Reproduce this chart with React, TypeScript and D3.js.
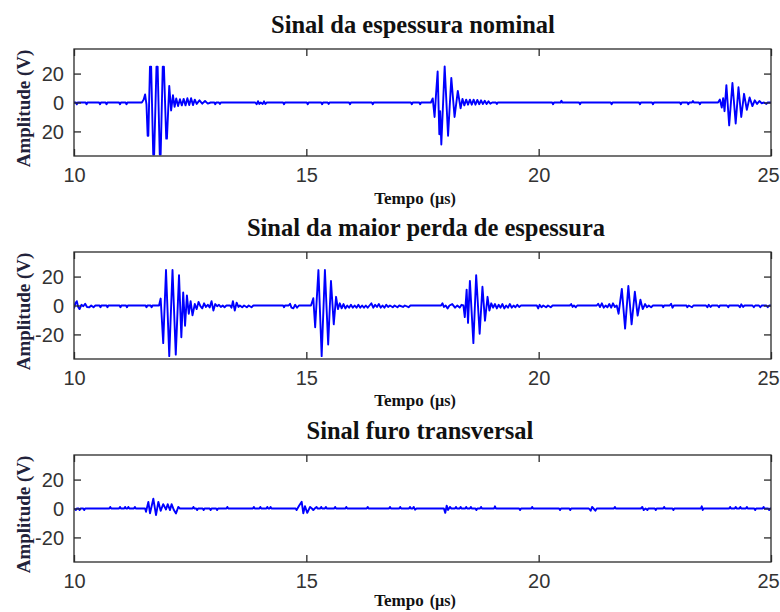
import * as d3 from "d3";
import { useEffect, useRef } from "react";

type Pt = [number, number];

const timeDomain: [number, number] = [10, 25];
const ampDomain: [number, number] = [-37, 37];
const xTicks = [10, 15, 20, 25];
const xTickLabels = ["10", "15", "20", "25"];
const yTicks = [-20, 0, 20];
const yTickLabelsNominal = ["20", "0", "20"];
const yTickLabels = ["-20", "0", "20"];

const titles = [
    "Sinal da espessura nominal",
    "Sinal da maior perda de espessura",
    "Sinal furo transversal",
];

// espessura nominal (t em µs, amplitude em V)
const signalNominal: Pt[] = [
    [10.0, 0], [10.04, 0], [10.06, -1.3], [10.08, 0], [10.25, 0], [10.27, -1.2], [10.29, 0],
    [10.54, 0], [10.56, -1.2], [10.58, 0], [10.68, 0], [10.7, -1.2], [10.72, 0], [10.97, 0],
    [10.99, -1.2], [11.01, 0], [11.11, 0], [11.13, -1.2], [11.15, 0], [11.46, 0],
    [11.5, 2], [11.53, 5.6], [11.56, -1.5], [11.585, -23], [11.6, -23], [11.635, 24.8], [11.66, 24.8],
    [11.705, -36], [11.725, -36], [11.775, 24.8], [11.8, 24.8], [11.845, -36], [11.865, -36],
    [11.91, 24.8], [11.935, 24.8], [11.985, -25], [12.0, -25], [12.05, 11.5], [12.09, -5.5],
    [12.13, 5], [12.165, -3], [12.2, 2.8], [12.24, -2.4], [12.28, 2.3], [12.32, -2], [12.36, 2.5],
    [12.4, -2], [12.44, 3], [12.48, -1.8], [12.52, 3], [12.56, -1.8], [12.6, 2], [12.64, -1],
    [12.7, 1.5], [12.76, -0.8], [12.82, 1], [12.88, -0.8], [12.94, 0], [13.02, 0], [13.04, -1.2],
    [13.06, 0], [13.12, 0], [13.14, -1], [13.16, 0],
    [13.9, 0], [13.93, -1.2], [13.96, 0.9], [13.99, -1], [14.02, 0], [14.06, -1], [14.09, 0.8],
    [14.12, -1], [14.15, 0], [14.5, 0], [14.52, -1.2], [14.54, 0], [15.01, 0], [15.03, -1.2],
    [15.05, 0], [15.32, 0], [15.34, -1.2], [15.36, 0], [15.46, 0], [15.48, -1], [15.5, 0],
    [15.92, 0], [15.94, -1.2], [15.96, 0], [16.41, 0], [16.43, -1.2], [16.45, 0], [17.25, 0],
    [17.27, -1.2], [17.29, 0], [17.43, 0], [17.45, -1.2], [17.47, 0], [17.68, 0],
    [17.72, 2.8], [17.76, -10], [17.79, 5], [17.826, 21.5], [17.862, -22], [17.88, -6], [17.905, -29],
    [17.977, 25], [18.05, -23], [18.12, 17], [18.19, -10], [18.26, 8], [18.32, -4], [18.36, 2.5],
    [18.4, -2], [18.44, 2], [18.48, -1.5], [18.52, 2], [18.56, -1.5], [18.6, 2], [18.64, -1.5],
    [18.68, 1.8], [18.72, -1.2], [18.76, 1.5], [18.8, -1], [18.84, 1.2], [18.88, -1], [18.92, 0.8],
    [18.96, -0.8], [19.0, 0], [19.08, 0], [19.1, -1], [19.12, 0],
    [20.29, 0], [20.31, -1.2], [20.33, 0], [20.47, 0], [20.49, 1.2], [20.51, 0], [20.87, 0],
    [20.89, -1.2], [20.91, 0], [21.55, 0], [21.57, -1.2], [21.59, 0], [22.16, 0], [22.18, -1.2],
    [22.2, 0], [22.44, 0], [22.46, -1.2], [22.48, 0], [23.04, 0], [23.06, -1.2], [23.08, 0],
    [23.2, 0], [23.22, -1.2], [23.24, 0], [23.3, 0], [23.32, 1], [23.34, 0], [23.45, 0],
    [23.47, -1.2], [23.49, 0], [23.86, 0],
    [23.9, 2], [23.94, -3.5], [23.97, 3], [24.0, -6], [24.04, 12], [24.1, -15.8], [24.17, 13.5],
    [24.24, -14.5], [24.3, 10.5], [24.36, -10], [24.42, 6], [24.48, -5], [24.54, 3.5], [24.6, -2.5],
    [24.65, 1.5], [24.7, -1], [24.75, 1], [24.8, -0.5], [24.85, 0], [24.9, -1], [24.93, 0], [25.0, 0],
];

// maior perda de espessura
const signalPerda: Pt[] = [
    [10.0, -2], [10.03, 1.5], [10.06, 3], [10.09, -1], [10.12, -2.5], [10.16, 0.5], [10.2, -0.5],
    [10.24, 1.2], [10.28, -1], [10.33, -1.2], [10.37, 0], [10.42, -1.2], [10.46, 0], [10.55, 0],
    [10.57, -1.2], [10.59, 0], [10.7, 0], [10.72, -1.2], [10.74, 0], [10.98, 0], [11.0, -1.2],
    [11.02, 0], [11.12, 0], [11.14, -1.2], [11.16, 0], [11.54, 0], [11.56, -1.2], [11.58, 0],
    [11.65, 0], [11.67, -1.2], [11.69, 0], [11.83, 0],
    [11.865, 4.8], [11.92, -26], [11.98, 24.5], [12.05, -35], [12.12, 24.5], [12.19, -34],
    [12.26, 21], [12.31, -22], [12.35, 9], [12.39, -14], [12.43, 7], [12.47, -5.7], [12.51, 3],
    [12.55, -6.8], [12.6, 1], [12.64, -2.5], [12.68, 2.5], [12.72, -0.5], [12.76, -2], [12.8, 1.5],
    [12.84, -1], [12.88, 0.5], [12.92, -1.3], [12.96, 3], [13.0, -3.5], [13.04, 1], [13.08, -0.5],
    [13.12, 0.5], [13.16, -1], [13.2, 0], [13.24, -1.2], [13.28, 0], [13.36, 0], [13.39, -1.5],
    [13.42, 3], [13.46, -3.5], [13.5, 2], [13.54, -1], [13.57, 0], [13.62, -1.2], [13.66, 0],
    [13.72, -1.2], [13.76, 0], [13.82, -1.2], [13.86, 0], [14.5, 0], [14.52, -1.2], [14.54, 0],
    [14.62, 0], [14.65, 1.2], [14.68, -1.5], [14.72, -2], [14.76, 0.5], [14.8, -1.5], [14.84, 0],
    [15.1, 0],
    [15.15, 5], [15.19, -15], [15.26, 24.5], [15.33, -35], [15.4, 24.5], [15.47, -27], [15.53, 17],
    [15.59, -13], [15.64, 6], [15.68, -2.5], [15.72, 1.5], [15.76, -2], [15.8, 1], [15.84, -2],
    [15.88, 0], [15.92, -1.5], [15.96, 0.5], [16.0, -1.5], [16.04, 0], [16.08, -1.5], [16.12, 0.5],
    [16.16, -1.5], [16.2, 0], [16.24, -1.5], [16.28, 0], [16.32, -1.5], [16.36, 0], [16.4, 1.5],
    [16.44, -1.5], [16.48, 0.5], [16.52, -1], [16.56, 1], [16.6, -1.5], [16.64, 0], [16.68, -1.5],
    [16.72, 0.5], [16.76, -1], [16.8, 0], [16.86, -1.2], [16.9, 0], [16.96, -1.2], [17.0, 0],
    [17.08, -1], [17.12, 0], [17.2, -1.2], [17.24, 0], [17.3, 0],
    [17.9, 0], [17.93, 1.5], [17.96, -1], [18.0, 0], [18.04, -2], [18.08, 0], [18.14, 1],
    [18.2, -1.5], [18.25, 0], [18.3, -1.5], [18.34, 0.5], [18.38, 0],
    [18.41, -8], [18.45, 11], [18.48, -12], [18.52, 17], [18.595, -26], [18.655, 21], [18.73, -19.5],
    [18.79, 13], [18.845, -10.5], [18.9, 6], [18.94, -3.5], [18.98, 1.5], [19.02, -1.5], [19.06, 1],
    [19.1, -2], [19.14, 0.5], [19.18, -1.5], [19.22, 1], [19.26, -2], [19.3, 0], [19.34, -1.5],
    [19.38, 1], [19.42, -1.5], [19.46, 0], [19.5, -1.2], [19.54, 0.5], [19.58, -1], [19.62, 0],
    [19.96, 0], [19.99, -2], [20.02, 0.5], [20.06, -1.2], [20.1, 0], [20.16, -1.2], [20.2, 0],
    [20.26, -1.2], [20.3, 0], [20.67, 0], [20.7, 1], [20.73, -1], [20.76, 0], [20.8, -1.2],
    [20.83, 0], [21.25, 0], [21.28, 1.2], [21.32, -1], [21.36, 1.5], [21.4, -1.5], [21.44, 0],
    [21.48, -1.2], [21.52, 1], [21.56, -1.5], [21.6, 1.5], [21.64, -1], [21.68, 0],
    [21.72, -5.7], [21.79, 11.5], [21.86, -16], [21.93, 13.5], [22.0, -13], [22.07, 9.5],
    [22.13, -7], [22.19, 4], [22.24, -2.5], [22.29, 1], [22.33, -1.2], [22.37, 0], [22.42, -1.2],
    [22.46, 0], [22.66, 0], [22.68, -1.2], [22.7, 0], [22.82, 0], [22.85, 1.2], [22.88, -1.5],
    [22.91, 0], [23.18, 0], [23.2, -1.2], [23.23, 0], [23.3, -1.2], [23.33, 0], [23.6, 0],
    [23.63, -1.2], [23.66, 0.5], [23.7, -1], [23.73, 0], [23.85, 0], [23.88, -1.2], [23.9, 0],
    [24.05, 0], [24.08, -1.2], [24.1, 0], [24.3, 0], [24.33, -1.2], [24.36, 0.8], [24.4, -1],
    [24.43, 0], [24.6, 0], [24.63, -1.2], [24.66, 0], [24.74, 0], [24.77, -1.2], [24.8, 0],
    [24.9, 0], [24.93, -1.2], [24.96, 0], [25.0, 0],
];

// furo transversal
const signalFuro: Pt[] = [
    [10.0, 0], [10.04, -1.1], [10.06, 0], [10.1, 0], [10.12, -1.1], [10.14, 0], [10.2, 0],
    [10.22, -1.1], [10.24, 0], [10.76, 0], [10.78, 1.1], [10.8, 0], [10.97, 0], [10.99, 1.1],
    [11.01, 0], [11.08, 0], [11.1, 1.1], [11.12, 0], [11.15, 0], [11.17, 1.1], [11.19, 0],
    [11.29, 0], [11.31, 1.1], [11.33, 0], [11.53, 0],
    [11.55, -2.3], [11.6, 4.6], [11.636, -3.4], [11.707, 6.8], [11.765, -4.6], [11.815, 4.6],
    [11.865, -1.6], [11.92, 3], [11.98, -0.7], [12.016, 3], [12.066, -1.1], [12.1, 3], [12.15, -1.1],
    [12.195, -3.4], [12.245, 1.1], [12.28, 0],
    [12.55, 0], [12.57, 1.1], [12.59, 0], [12.63, 0], [12.65, -1.1], [12.67, 0], [12.77, 0],
    [12.79, -1.1], [12.81, 0], [12.92, 0], [12.94, -1.1], [12.96, 0], [13.06, 0], [13.08, -1.1],
    [13.1, 0], [13.28, 0], [13.3, 1.1], [13.32, 0], [13.85, 0], [13.87, 1.1], [13.89, 0],
    [13.99, 0], [14.01, 1.1], [14.03, 0], [14.14, 0], [14.16, 1.1], [14.18, 0], [14.21, 0],
    [14.23, 1.1], [14.25, 0], [14.77, 0],
    [14.79, -1.1], [14.85, 2.3], [14.9, 4.6], [14.935, -3.4], [14.97, 1.6], [15.02, -3], [15.08, 1.1],
    [15.12, 0], [15.15, -1.1], [15.18, 0], [15.22, 1.1], [15.24, 0], [15.3, 0], [15.32, 1.1],
    [15.34, 0], [15.4, 0], [15.42, 1.1], [15.44, 0], [15.6, 0], [15.62, 1.1], [15.64, 0],
    [15.84, 0], [15.86, 1.1], [15.88, 0], [16.3, 0], [16.32, 1.1], [16.34, 0], [16.78, 0],
    [16.8, 1.1], [16.82, 0], [17.0, 0], [17.02, 1.1], [17.04, 0], [17.21, 0], [17.23, 1.1],
    [17.25, 0], [17.29, 0], [17.31, 1.1], [17.34, -0.8], [17.37, 0], [17.96, 0], [17.99, -3],
    [18.02, 2], [18.05, -1], [18.09, 1.1], [18.12, 0], [18.2, 0], [18.22, 1.1], [18.24, 0],
    [18.3, 0], [18.32, 1.1], [18.34, 0], [18.42, 0], [18.44, 1.1], [18.46, 0], [18.52, 0],
    [18.54, 1.1], [18.56, 0], [18.64, 0], [18.66, -1.1], [18.68, 0], [18.74, 0], [18.76, 1.1],
    [18.78, 0], [19.04, 0], [19.06, 1.5], [19.08, 0], [19.58, 0], [19.6, -1.1], [19.62, 0],
    [19.84, 0], [19.86, 1.1], [19.88, 0], [20.44, 0], [20.46, -1.1], [20.48, 0], [20.66, 0],
    [20.68, -1.1], [20.7, 0], [21.08, 0], [21.12, -1.5], [21.15, 1.1], [21.18, 0], [21.22, -1.5],
    [21.25, 0], [21.62, 0], [21.64, 1.1], [21.66, 0], [22.2, 0], [22.23, 1.1], [22.26, -1.1],
    [22.3, 0], [22.34, -1.1], [22.36, 0], [22.5, 0], [22.52, -1.1], [22.54, 0], [22.68, 0],
    [22.7, 1.1], [22.72, 0], [22.88, 0], [22.9, -1.1], [22.92, 0], [23.49, 0], [23.51, 1.5],
    [23.53, -1.1], [23.55, 0], [24.1, 0], [24.12, 1.1], [24.14, 0], [24.22, 0], [24.24, 1.1],
    [24.26, 0], [24.32, 0], [24.34, 1.1], [24.36, 0], [24.46, 0], [24.48, 1.1], [24.5, 0],
    [24.64, 0], [24.66, -1.1], [24.68, 0], [24.82, 0], [24.84, 1.1], [24.86, 0], [24.94, 0],
    [24.96, -1.1], [24.98, 0], [25.0, 0],
];

const panels = [
    { title: titles[0], signal: signalNominal, yLabels: yTickLabelsNominal, top: 49, titleX: 413, titleY: 33, xLabelY: 204 },
    { title: titles[1], signal: signalPerda, yLabels: yTickLabels, top: 252, titleX: 426, titleY: 236, xLabelY: 406 },
    { title: titles[2], signal: signalFuro, yLabels: yTickLabels, top: 455, titleX: 420, titleY: 439, xLabelY: 606 },
];

const WIDTH = 780;
const HEIGHT = 612;
const LEFT = 74;
const RIGHT = 771;
const PLOT_H = 107;
const TICK = 7;

function drawChart(svgElement: SVGSVGElement) {
    const svg = d3.select(svgElement);
    svg.selectAll("*").remove();

    svg.append("rect").attr("width", WIDTH).attr("height", HEIGHT).attr("fill", "#ffffff");

    const x = d3.scaleLinear().domain(timeDomain).range([LEFT, RIGHT]);

    panels.forEach((p, i) => {
        const y = d3.scaleLinear().domain(ampDomain).range([p.top + PLOT_H, p.top]);
        const bottom = p.top + PLOT_H;
        const g = svg.append("g");

        // signal
        const clipId = `clip-${i}`;
        g.append("clipPath")
            .attr("id", clipId)
            .append("rect")
            .attr("x", LEFT)
            .attr("y", p.top)
            .attr("width", RIGHT - LEFT)
            .attr("height", PLOT_H);

        const line = d3
            .line<Pt>()
            .x((d) => x(d[0]))
            .y((d) => y(d[1]));

        g.append("path")
            .datum(p.signal)
            .attr("clip-path", `url(#${clipId})`)
            .attr("fill", "none")
            .attr("stroke", "#0000ff")
            .attr("stroke-width", 1.9)
            .attr("stroke-linejoin", "round")
            .attr("d", line);

        // frame
        g.append("rect")
            .attr("x", LEFT)
            .attr("y", p.top)
            .attr("width", RIGHT - LEFT)
            .attr("height", PLOT_H)
            .attr("fill", "none")
            .attr("stroke", "#2a2a2a")
            .attr("stroke-width", 1.3);

        // bottom axis with labels
        const xb = g
            .append("g")
            .attr("transform", `translate(0,${bottom})`)
            .call(
                d3
                    .axisBottom(x)
                    .tickValues(xTicks)
                    .tickSizeInner(-TICK)
                    .tickSizeOuter(0)
                    .tickFormat((_, k) => xTickLabels[k])
            );
        xb.select(".domain").remove();
        xb.selectAll("line").attr("stroke", "#2a2a2a").attr("stroke-width", 1.3);
        xb.selectAll<SVGTextElement, number>("text")
            .attr("y", 26)
            .attr("dy", null)
            // the last label sits on the page edge; nudge it in slightly
            .attr("x", (_, k) => (k === xTicks.length - 1 ? -3 : 0))
            .style("font-family", "'Liberation Sans', Arial, sans-serif")
            .style("font-size", "20px")
            .attr("fill", "#333333");

        // top ticks
        const xt = g
            .append("g")
            .attr("transform", `translate(0,${p.top})`)
            .call(d3.axisTop(x).tickValues(xTicks).tickSizeInner(-TICK).tickSizeOuter(0).tickFormat(() => ""));
        xt.select(".domain").remove();
        xt.selectAll("line").attr("stroke", "#2a2a2a").attr("stroke-width", 1.3);

        // left axis with labels
        const yl = g
            .append("g")
            .attr("transform", `translate(${LEFT},0)`)
            .call(
                d3
                    .axisLeft(y)
                    .tickValues(yTicks)
                    .tickSizeInner(-TICK)
                    .tickSizeOuter(0)
                    .tickFormat((_, k) => p.yLabels[k])
            );
        yl.select(".domain").remove();
        yl.selectAll("line").attr("stroke", "#2a2a2a").attr("stroke-width", 1.3);
        yl.selectAll("text")
            .attr("x", -10)
            .attr("dy", "0.36em")
            .style("font-family", "'Liberation Sans', Arial, sans-serif")
            .style("font-size", "20px")
            .attr("fill", "#333333");

        // right ticks
        const yr = g
            .append("g")
            .attr("transform", `translate(${RIGHT},0)`)
            .call(d3.axisRight(y).tickValues(yTicks).tickSizeInner(-TICK).tickSizeOuter(0).tickFormat(() => ""));
        yr.select(".domain").remove();
        yr.selectAll("line").attr("stroke", "#2a2a2a").attr("stroke-width", 1.3);

        // title
        g.append("text")
            .attr("x", p.titleX)
            .attr("y", p.titleY)
            .attr("text-anchor", "middle")
            .style("font-family", "'Liberation Serif', 'Times New Roman', serif")
            .style("font-weight", "bold")
            .style("font-size", "24.5px")
            .attr("fill", "#111111")
            .text(p.title);

        // x label
        const xl = g
            .append("text")
            .attr("x", 415)
            .attr("y", p.xLabelY)
            .attr("text-anchor", "middle")
            .style("font-family", "'Liberation Serif', 'Times New Roman', serif")
            .style("font-weight", "bold")
            .style("font-size", "17px")
            .attr("fill", "#111111");
        xl.append("tspan").text("Tempo");
        xl.append("tspan").attr("dx", 6).style("font-size", "16px").text("(µs)");

        // y label
        g.append("text")
            .attr("transform", `translate(30,${p.top + PLOT_H / 2 + 6}) rotate(-90)`)
            .attr("text-anchor", "middle")
            .style("font-family", "'Liberation Serif', 'Times New Roman', serif")
            .style("font-weight", "bold")
            .style("font-size", "19px")
            .attr("fill", "#22223a")
            .text("Amplitude (V)");
    });
}

export default function App() {
    const chartRef = useRef<SVGSVGElement | null>(null);

    useEffect(() => {
        if (chartRef.current) {
            drawChart(chartRef.current);
        }
    }, []);

    return (
        <svg
            ref={chartRef}
            width={WIDTH}
            height={HEIGHT}
            style={{ position: "absolute", left: 0, top: 0, display: "block" }}
        ></svg>
    );
}
